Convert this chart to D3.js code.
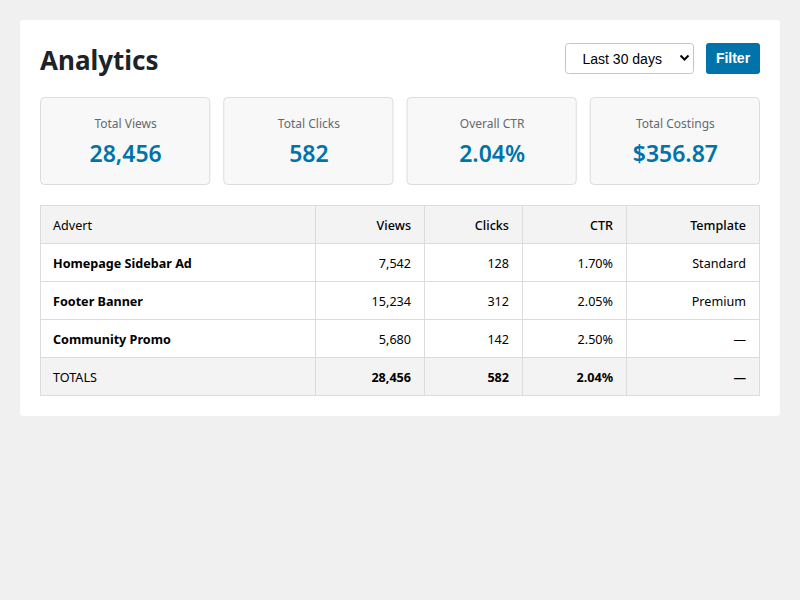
<!DOCTYPE html>
<html>
<head>
<meta charset="utf-8">
<script src="https://cdn.jsdelivr.net/npm/d3@7"></script>
<style>
  html, body { margin: 0; padding: 0; background: #f0f0f1; }
  svg { display: block; }
</style>
</head>
<body>
<div id="chart"></div>
<script>
  'use strict';

  // data
  var statLabels = ['Total Views', 'Total Clicks', 'Overall CTR', 'Total Costings'];
  var statValues = ['28,456', '582', '2.04%', '$356.87'];

  var columns = ['Advert', 'Views', 'Clicks', 'CTR', 'Template'];
  var adverts = ['Homepage Sidebar Ad', 'Footer Banner', 'Community Promo'];
  var views = [7542, 15234, 5680];
  var clicks = [128, 312, 142];
  var ctr = [1.70, 2.05, 2.50];
  var templates = ['Standard', 'Premium', '\u2014'];
  var totalCtr = 2.04;

  var width = 800;
  var height = 600;
  var font = '"Noto Sans", "Open Sans", sans-serif';
  var blue = '#0073aa';
  var ink = '#1d2327';
  var line = '#dcdcde';

  var svg = d3.select('#chart').append('svg')
    .attr('width', width)
    .attr('height', height);

  // white panel
  svg.append('rect')
    .attr('x', 20).attr('y', 20)
    .attr('width', 760).attr('height', 396)
    .attr('rx', 4)
    .attr('fill', '#fff');

  svg.append('text')
    .attr('x', 40).attr('y', 70)
    .attr('font-family', font)
    .attr('font-size', 26)
    .attr('font-weight', 700)
    .attr('fill', ink)
    .text('Analytics');

  // period select
  var sel = svg.append('g').attr('transform', 'translate(565.5,43.5)');
  sel.append('rect')
    .attr('width', 128).attr('height', 30)
    .attr('rx', 3)
    .attr('fill', '#fff')
    .attr('stroke', '#c3c4c7');
  sel.append('text')
    .attr('x', 17).attr('y', 20)
    .attr('font-family', '"Liberation Sans", Arial, sans-serif')
    .attr('font-size', 14)
    .attr('fill', '#000')
    .text('Last 30 days');
  sel.append('path')
    .attr('d', 'M115,12 L119,16 L123,12')
    .attr('fill', 'none')
    .attr('stroke', '#000')
    .attr('stroke-width', 2);

  // filter button
  var btn = svg.append('g').attr('transform', 'translate(706,43)');
  btn.append('rect')
    .attr('width', 54).attr('height', 31)
    .attr('rx', 3)
    .attr('fill', blue);
  btn.append('text')
    .attr('x', 27).attr('y', 20)
    .attr('text-anchor', 'middle')
    .attr('font-family', '"Liberation Sans", Arial, sans-serif')
    .attr('font-size', 14)
    .attr('font-weight', 700)
    .attr('fill', '#fff')
    .text('Filter');

  // stat cards
  var cardX = d3.scaleBand()
    .domain(statLabels)
    .range([40, 760])
    .paddingInner(13 / 183);

  var cards = svg.selectAll('g.card')
    .data(statLabels)
    .enter()
    .append('g')
      .attr('class', 'card')
      .attr('transform', function (d) { return 'translate(' + (cardX(d) + 0.5) + ',97.5)'; });

  cards.append('rect')
    .attr('width', cardX.bandwidth() - 1)
    .attr('height', 87)
    .attr('rx', 4)
    .attr('fill', '#f8f8f8')
    .attr('stroke', line);

  cards.append('text')
    .attr('x', cardX.bandwidth() / 2)
    .attr('y', 30)
    .attr('text-anchor', 'middle')
    .attr('font-family', font)
    .attr('font-size', 12)
    .attr('fill', '#646970')
    .text(function (d) { return d; });

  cards.append('text')
    .attr('x', cardX.bandwidth() / 2)
    .attr('y', 64)
    .attr('text-anchor', 'middle')
    .attr('font-family', font)
    .attr('font-size', 23)
    .attr('font-weight', 600)
    .attr('fill', blue)
    .text(function (d, i) { return statValues[i]; });

  // table
  var fmt = d3.format(',');
  var rows = adverts.map(function (a, i) {
    return { cells: [a, fmt(views[i]), fmt(clicks[i]), ctr[i].toFixed(2) + '%', templates[i]], kind: 'body' };
  });
  rows.unshift({ cells: columns, kind: 'head' });
  rows.push({
    cells: ['TOTALS', fmt(d3.sum(views)), fmt(d3.sum(clicks)), totalCtr.toFixed(2) + '%', '\u2014'],
    kind: 'total'
  });

  var colEdges = [40, 315, 424, 522, 626, 759];
  var colX = d3.scaleOrdinal().domain(d3.range(columns.length)).range(colEdges.slice(0, -1));
  var colW = function (i) { return colEdges[i + 1] - colEdges[i]; };

  var rowY = d3.scaleBand()
    .domain(d3.range(rows.length))
    .range([205, 205 + 38 * rows.length]);

  var tr = svg.selectAll('g.row')
    .data(rows)
    .enter()
    .append('g')
      .attr('class', 'row')
      .attr('transform', function (d, i) { return 'translate(0,' + rowY(i) + ')'; });

  tr.append('rect')
    .attr('x', 40).attr('y', 0)
    .attr('width', 719)
    .attr('height', rowY.bandwidth())
    .attr('fill', function (d) { return d.kind === 'body' ? '#fff' : '#f3f3f3'; });

  tr.selectAll('text')
    .data(function (d) { return d.cells.map(function (c, j) { return { v: c, j: j, kind: d.kind }; }); })
    .enter()
    .append('text')
      .attr('x', function (d) { return d.j === 0 ? colX(0) + 13 : colX(d.j) + colW(d.j) - 13; })
      .attr('y', rowY.bandwidth() / 2 + 5.5)
      .attr('text-anchor', function (d) { return d.j === 0 ? 'start' : 'end'; })
      .attr('font-family', font)
      .attr('font-size', 12.6)
      .attr('font-weight', function (d) {
        if (d.kind === 'body' && d.j === 0) return 700;
        if (d.kind === 'total' && d.j > 0) return 700;
        if (d.kind === 'head' && d.j > 0) return 500;
        return 400;
      })
      .attr('fill', '#000')
      .text(function (d) { return d.v; });

  // grid lines
  svg.selectAll('line.h')
    .data(d3.range(rows.length + 1))
    .enter()
    .append('line')
      .attr('class', 'h')
      .attr('x1', 40).attr('x2', 760)
      .attr('y1', function (i) { return (i < rows.length ? rowY(i) : rowY(rows.length - 1) + rowY.bandwidth()) + 0.5; })
      .attr('y2', function (i) { return (i < rows.length ? rowY(i) : rowY(rows.length - 1) + rowY.bandwidth()) + 0.5; })
      .attr('stroke', line);

  svg.selectAll('line.v')
    .data(colEdges)
    .enter()
    .append('line')
      .attr('class', 'v')
      .attr('x1', function (d) { return d + 0.5; })
      .attr('x2', function (d) { return d + 0.5; })
      .attr('y1', rowY(0))
      .attr('y2', rowY(rows.length - 1) + rowY.bandwidth() + 1)
      .attr('stroke', line);
</script>
</body>
</html>
